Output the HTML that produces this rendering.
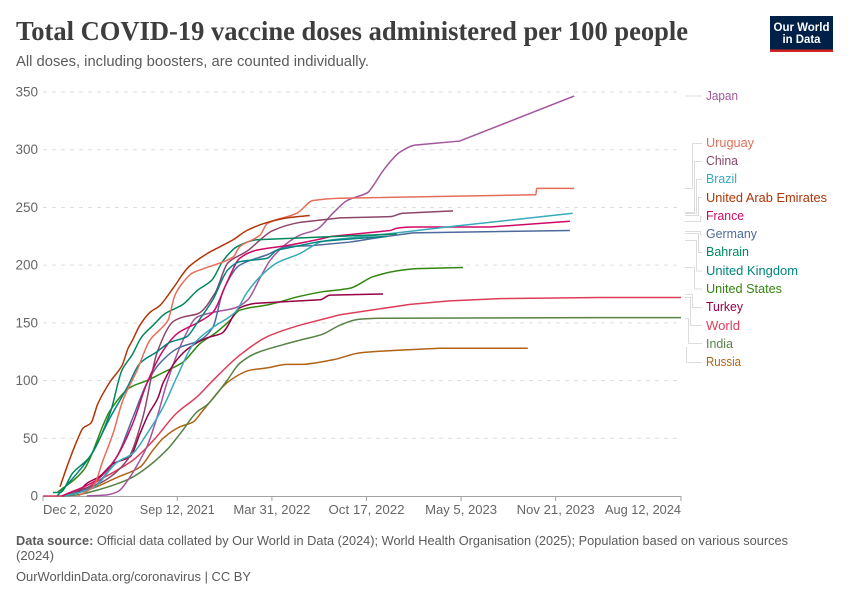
<!DOCTYPE html>
<html lang="en">
<head>
<meta charset="utf-8">
<title>Total COVID-19 vaccine doses administered per 100 people</title>
<style>
html,body{margin:0;padding:0;background:#fff;}
svg{display:block;font-family:"Liberation Sans",sans-serif;}
.lab{font-size:13px;}
.conn{fill:none;stroke:#ddd;stroke-width:1;}
</style>
</head>
<body>
<svg id="chart" width="850" height="600" viewBox="0 0 850 600" xmlns="http://www.w3.org/2000/svg">
  <rect width="850" height="600" fill="#fff"/>
  <text x="16" y="40" font-family="'Liberation Serif',serif" font-weight="700" font-size="27" fill="#3d3d3d" textLength="672" lengthAdjust="spacingAndGlyphs">Total COVID-19 vaccine doses administered per 100 people</text>
  <text x="16" y="66" font-size="14.5" fill="#5b5b5b" textLength="353" lengthAdjust="spacingAndGlyphs">All doses, including boosters, are counted individually.</text>

  <g>
    <rect x="770" y="16" width="63" height="36" fill="#002147"/>
    <rect x="770" y="49.5" width="63" height="2.5" fill="#ce261e"/>
    <text x="801.5" y="31" text-anchor="middle" font-size="12" font-weight="700" fill="#fff" textLength="56" lengthAdjust="spacingAndGlyphs">Our World</text>
    <text x="801.5" y="43" text-anchor="middle" font-size="12" font-weight="700" fill="#fff" textLength="38" lengthAdjust="spacingAndGlyphs">in Data</text>
  </g>

  <g id="grid"></g>
  <g id="yticks"></g>
  <g id="xaxis"></g>
  <g id="lines"></g>

  <g>
    <path class="conn" d="M685.5 96H702"/>
    <path class="conn" d="M685 188.5H692.5V143.5H702"/>
    <path class="conn" d="M685 212.5H694.5V161.5H702"/>
    <path class="conn" d="M685 213.5H696.5V179.5H702"/>
    <path class="conn" d="M685 215.5H698.5V197.5H702"/>
    <path class="conn" d="M685 221.5H700.5V216.5H702"/>
    <path class="conn" d="M685 231.5H700.5V234.5H702"/>
    <path class="conn" d="M685 233.5H698.5V252.5H702"/>
    <path class="conn" d="M685 240.5H696.5V271H702"/>
    <path class="conn" d="M685 267.5H694.5V289H702"/>
    <path class="conn" d="M685 294.5H692.5V307.5H702"/>
    <path class="conn" d="M685 297.5H690.5V325.5H702"/>
    <path class="conn" d="M685 318.5H688.5V343.5H702"/>
    <path class="conn" d="M686.5 347V362.5H702"/>
  </g>

  <g>
    <text class="lab" x="706" y="100" fill="#a2559c" textLength="32" lengthAdjust="spacingAndGlyphs">Japan</text>
    <text class="lab" x="706" y="147" fill="#e56e5a" textLength="48" lengthAdjust="spacingAndGlyphs">Uruguay</text>
    <text class="lab" x="706" y="165" fill="#8c4569" textLength="32" lengthAdjust="spacingAndGlyphs">China</text>
    <text class="lab" x="706" y="183" fill="#38aaba" textLength="31" lengthAdjust="spacingAndGlyphs">Brazil</text>
    <text class="lab" x="706" y="202" fill="#b13507" textLength="121" lengthAdjust="spacingAndGlyphs">United Arab Emirates</text>
    <text class="lab" x="706" y="220" fill="#cf0a66" textLength="38" lengthAdjust="spacingAndGlyphs">France</text>
    <text class="lab" x="706" y="238" fill="#4c6a9c" textLength="51" lengthAdjust="spacingAndGlyphs">Germany</text>
    <text class="lab" x="706" y="256" fill="#00875e" textLength="43" lengthAdjust="spacingAndGlyphs">Bahrain</text>
    <text class="lab" x="706" y="275" fill="#00847e" textLength="92" lengthAdjust="spacingAndGlyphs">United Kingdom</text>
    <text class="lab" x="706" y="293" fill="#338711" textLength="76" lengthAdjust="spacingAndGlyphs">United States</text>
    <text class="lab" x="706" y="311" fill="#970046" textLength="37" lengthAdjust="spacingAndGlyphs">Turkey</text>
    <text class="lab" x="706" y="330" fill="#de3d5a" textLength="34" lengthAdjust="spacingAndGlyphs">World</text>
    <text class="lab" x="706" y="348" fill="#578145" textLength="27" lengthAdjust="spacingAndGlyphs">India</text>
    <text class="lab" x="706" y="366" fill="#b16214" textLength="35" lengthAdjust="spacingAndGlyphs">Russia</text>
  </g>

  <text x="16" y="545" font-size="12.5" fill="#5b5b5b" textLength="772" lengthAdjust="spacingAndGlyphs"><tspan font-weight="700">Data source:</tspan> Official data collated by Our World in Data (2024); World Health Organisation (2025); Population based on various sources</text>
  <text x="16" y="560" font-size="12.5" fill="#5b5b5b" textLength="38" lengthAdjust="spacingAndGlyphs">(2024)</text>
  <text x="16" y="581" font-size="12.5" fill="#5b5b5b" textLength="235" lengthAdjust="spacingAndGlyphs">OurWorldinData.org/coronavirus | CC BY</text>
</svg>
<script>
// Axis ticks
const yTickValues = [0, 50, 100, 150, 200, 250, 300, 350];
const xTickDays = [0, 284, 484, 684, 884, 1084, 1349];
const xTickLabels = ["Dec 2, 2020", "Sep 12, 2021", "Mar 31, 2022", "Oct 17, 2022", "May 5, 2023", "Nov 21, 2023", "Aug 12, 2024"];

// Series: days since Dec 2, 2020 and doses per 100 people
const worldDays = [0, 36, 72, 120, 190, 233, 283, 326, 359, 416, 474, 543, 628, 776, 860, 966, 1177, 1349];
const worldValues = [0, 0, 3, 14, 31, 48, 72, 86, 100, 122, 138, 148, 157, 166, 169, 171, 172, 172];
const russiaDays = [42, 100, 156, 205, 233, 254, 290, 317, 338, 395, 438, 474, 516, 543, 613, 670, 740, 839, 1025];
const russiaValues = [0, 6, 16, 25, 40, 50, 60, 64, 74, 100, 109, 111, 114, 114, 118, 124, 126, 128, 128];
const indiaDays = [42, 72, 114, 178, 211, 262, 290, 326, 347, 389, 416, 452, 507, 543, 590, 628, 666, 712, 1177, 1349];
const indiaValues = [0, 1, 5, 14, 22, 40, 54, 73, 79, 100, 115, 124, 131, 135, 140, 148, 153, 154, 154.5, 154.5];
const usaDays = [30, 85, 142, 184, 220, 254, 296, 332, 364, 395, 416, 480, 543, 592, 649, 698, 748, 791, 888];
const usaValues = [3, 22, 74, 94, 100, 107, 116, 132, 141, 152, 161, 166, 173, 177, 180, 190, 195, 197, 198];
const japanDays = [93, 135, 159, 180, 205, 220, 241, 262, 296, 326, 359, 406, 433, 459, 480, 516, 543, 579, 613, 643, 687, 695, 723, 755, 786, 881, 1123];
const japanValues = [0, 1, 4, 14, 31, 43, 68, 98, 135, 155, 159, 163, 170, 189, 204, 219, 226, 231, 245, 256, 263, 267, 284, 298, 304, 307.5, 346.5];
const germanyDays = [40, 106, 156, 190, 220, 247, 285, 332, 359, 381, 416, 474, 516, 571, 649, 695, 782, 1114];
const germanyValues = [0, 8, 34, 68, 98, 115, 128, 135, 146, 178, 200, 209, 216, 217, 220, 223, 228, 230];
const turkeyDays = [72, 93, 120, 148, 184, 205, 222, 243, 254, 283, 311, 347, 378, 416, 452, 586, 607, 719];
const turkeyValues = [2, 11, 17, 28, 34, 54, 70, 85, 98, 118, 129, 137, 141, 163, 167, 170, 174, 175];
const chinaDays = [40, 120, 178, 211, 241, 275, 296, 328, 364, 391, 431, 486, 543, 628, 734, 761, 867];
const chinaValues = [0, 11, 31, 68, 124, 151, 155, 158, 176, 202, 212, 230, 237, 241, 242, 245, 247];
const franceDays = [40, 114, 156, 190, 220, 254, 285, 326, 359, 391, 416, 452, 516, 579, 613, 734, 748, 782, 945, 1114];
const franceValues = [0, 14, 34, 63, 98, 126, 141, 150, 159, 187, 206, 213, 217, 222, 225, 230, 232, 233, 233, 238];
const brazilDays = [47, 106, 156, 190, 220, 254, 283, 317, 359, 406, 431, 459, 495, 543, 564, 586, 613, 685, 748, 854, 1120];
const brazilValues = [0, 7, 29, 37, 54, 77, 103, 131, 146, 159, 176, 190, 202, 210, 215, 220, 222, 225, 228, 233, 245];
const ukDays = [30, 99, 142, 178, 205, 241, 268, 304, 326, 359, 391, 416, 474, 495, 579, 628, 727];
const ukValues = [0, 34, 68, 94, 115, 125, 133, 138, 150, 170, 196, 203, 206, 213, 220, 222, 225];
const bahrainDays = [21, 36, 63, 99, 142, 167, 188, 209, 233, 258, 296, 326, 357, 381, 410, 452, 628, 748];
const bahrainValues = [3, 3, 20, 34, 72, 109, 122, 138, 148, 158, 166, 178, 187, 204, 216, 222, 225, 227];
const uruguayDays = [74, 106, 127, 148, 169, 199, 226, 247, 264, 279, 294, 315, 347, 402, 416, 459, 474, 537, 571, 628, 1040, 1042, 1044, 1123];
const uruguayValues = [0, 8, 31, 54, 83, 109, 135, 144, 152, 174, 184, 193, 198, 207, 216, 226, 236, 245, 256, 258, 261, 261, 266.5, 266.5];
const uaeDays = [36, 53, 72, 85, 101, 116, 142, 167, 180, 188, 205, 226, 247, 275, 307, 347, 370, 402, 431, 474, 516, 564];
const uaeValues = [8, 28, 48, 59, 63, 80, 99, 113, 128, 134, 148, 159, 165, 180, 198, 210, 215, 222, 230, 237, 241, 243];

const seriesNames = ["world", "russia", "india", "united-states", "japan", "germany", "turkey", "china", "france", "brazil", "united-kingdom", "bahrain", "uruguay", "united-arab-emirates"];
const seriesColors = ["#de3d5a", "#b16214", "#578145", "#338711", "#a2559c", "#4c6a9c", "#970046", "#8c4569", "#cf0a66", "#38aaba", "#00847e", "#00875e", "#e56e5a", "#b13507"];
const seriesDays = [worldDays, russiaDays, indiaDays, usaDays, japanDays, germanyDays, turkeyDays, chinaDays, franceDays, brazilDays, ukDays, bahrainDays, uruguayDays, uaeDays];
const seriesValues = [worldValues, russiaValues, indiaValues, usaValues, japanValues, germanyValues, turkeyValues, chinaValues, franceValues, brazilValues, ukValues, bahrainValues, uruguayValues, uaeValues];

const SVGNS = "http://www.w3.org/2000/svg";
const xLeft = 43, xRight = 681, yBottom = 496, yTop = 92;
const maxDay = 1349, maxValue = 350;
const straightGapPx = 35;
function xScale(day) { return xLeft + (day / maxDay) * (xRight - xLeft); }
function yScale(value) { return yBottom - (value / maxValue) * (yBottom - yTop); }
function make(tag, attrs) {
  const el = document.createElementNS(SVGNS, tag);
  for (const k in attrs) el.setAttribute(k, attrs[k]);
  return el;
}
// Monotone cubic path through the scaled points; long gaps stay straight
function curve(xs, ys) {
  const n = xs.length, sec = [], tan = [];
  for (let i = 0; i < n - 1; i++) sec.push((ys[i + 1] - ys[i]) / (xs[i + 1] - xs[i]));
  for (let i = 0; i < n; i++) {
    if (i === 0) tan.push(sec[0]);
    else if (i === n - 1) tan.push(sec[n - 2]);
    else tan.push(sec[i - 1] * sec[i] <= 0 ? 0 : 2 * sec[i - 1] * sec[i] / (sec[i - 1] + sec[i]));
  }
  let d = "M" + xs[0].toFixed(2) + " " + ys[0].toFixed(2);
  for (let i = 0; i < n - 1; i++) {
    if (xs[i + 1] - xs[i] > straightGapPx) {
      d += "L" + xs[i + 1].toFixed(2) + " " + ys[i + 1].toFixed(2);
      continue;
    }
    const h = (xs[i + 1] - xs[i]) / 3;
    d += "C" + (xs[i] + h).toFixed(2) + " " + (ys[i] + tan[i] * h).toFixed(2) + " " +
      (xs[i + 1] - h).toFixed(2) + " " + (ys[i + 1] - tan[i + 1] * h).toFixed(2) + " " +
      xs[i + 1].toFixed(2) + " " + ys[i + 1].toFixed(2);
  }
  return d;
}

const gridGroup = document.getElementById("grid");
const yGroup = document.getElementById("yticks");
yTickValues.forEach(function (v) {
  const y = yScale(v);
  if (v !== 0) {
    const line = make("line", { x1: xLeft, x2: xRight, y1: y, y2: y, stroke: "#dddddd", "stroke-width": 1, "stroke-dasharray": "4 5" });
    
    
    gridGroup.appendChild(line);
  }
  const label = make("text", { x: 38, y: y + 4.5, "text-anchor": "end", "font-size": 13.5, fill: "#666666" });
  
  
  label.textContent = String(v);
  yGroup.appendChild(label);
});

const xGroup = document.getElementById("xaxis");
const axisLine = make("line", { x1: xLeft, x2: xRight, y1: yBottom + 0.5, y2: yBottom + 0.5, stroke: "#a1a1a1", "stroke-width": 1 });


xGroup.appendChild(axisLine);
xTickDays.forEach(function (d, i) {
  const x = xScale(d);
  const tick = make("line", { x1: x, x2: x, y1: yBottom, y2: yBottom + 5, stroke: "#a1a1a1", "stroke-width": 1 });
  
  
  xGroup.appendChild(tick);
  const first = i === 0, last = i === xTickDays.length - 1;
  const label = make("text", {
    x: x, y: 514, "font-size": 12.5, fill: "#666666",
    "text-anchor": first ? "start" : last ? "end" : "middle",
    textLength: [70, 75, 77, 76, 72, 78, 76][i], lengthAdjust: "spacingAndGlyphs"
  });
  
  
  label.textContent = xTickLabels[i];
  xGroup.appendChild(label);
});

const lineGroup = document.getElementById("lines");
seriesNames.forEach(function (name, i) {
  const xs = seriesDays[i].map(xScale);
  const ys = seriesValues[i].map(yScale);
  const path = make("path", { d: curve(xs, ys), fill: "none", stroke: seriesColors[i], "stroke-width": 1.5, "stroke-linejoin": "round", "stroke-linecap": "butt" });
  
  
  path.setAttribute('data-series', name);
  lineGroup.appendChild(path);
});
</script>
</body>
</html>
